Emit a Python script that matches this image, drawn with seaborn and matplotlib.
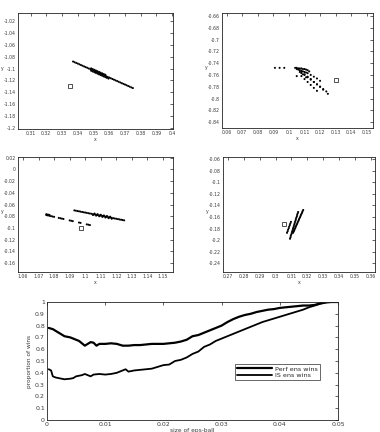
import matplotlib
matplotlib.use("Agg")
import matplotlib.pyplot as plt
import seaborn as sns
import pandas as pd

sns.set_style("white")
plt.rcParams['font.family'] = ['DejaVu Sans']

# ---- panel data (top-left) ----
tl_x = [0.337, 0.338, 0.339, 0.340, 0.341, 0.342, 0.343, 0.344, 0.345, 0.346, 0.347, 0.348, 0.349,
        0.350, 0.351, 0.352, 0.353, 0.354, 0.355, 0.356, 0.357, 0.358, 0.359, 0.360, 0.361, 0.362,
        0.363, 0.364, 0.365, 0.366, 0.367, 0.368, 0.369, 0.370, 0.371, 0.372, 0.373, 0.374, 0.375,
        0.3485, 0.3495, 0.3505, 0.3515, 0.3525, 0.3535, 0.3545, 0.3555, 0.3565, 0.3575, 0.3585, 0.3595,
        0.3485, 0.3495, 0.3505, 0.3515, 0.3525, 0.3535, 0.3545, 0.3555, 0.3565, 0.3575]
tl_y = [-1.0880, -1.0892, -1.0904, -1.0915, -1.0927, -1.0939, -1.0951, -1.0963, -1.0974, -1.0986,
        -1.0998, -1.1010, -1.1022, -1.1033, -1.1045, -1.1057, -1.1069, -1.1081, -1.1092, -1.1104,
        -1.1116, -1.1128, -1.1140, -1.1151, -1.1163, -1.1175, -1.1187, -1.1199, -1.1210, -1.1222,
        -1.1234, -1.1246, -1.1258, -1.1269, -1.1281, -1.1293, -1.1305, -1.1317, -1.1328,
        -1.1036, -1.1048, -1.1060, -1.1072, -1.1084, -1.1096, -1.1108, -1.1120, -1.1132, -1.1144, -1.1156, -1.1168,
        -1.0996, -1.1008, -1.1020, -1.1032, -1.1044, -1.1056, -1.1068, -1.1080, -1.1092, -1.1104]
tl_sq = (0.335, -1.129)

# ---- top-right ----
tr_x = [0.091, 0.094, 0.097,
        0.104, 0.105, 0.106, 0.107, 0.108, 0.109, 0.110, 0.111, 0.112,
        0.105, 0.106, 0.107, 0.108, 0.109, 0.110, 0.111,
        0.107, 0.108, 0.109, 0.113,
        0.108, 0.110, 0.112, 0.114, 0.116, 0.118, 0.120, 0.122,
        0.110, 0.112, 0.114, 0.116, 0.118, 0.120, 0.122, 0.124, 0.125,
        0.108, 0.110, 0.112, 0.114, 0.116, 0.118,
        0.112, 0.114, 0.116, 0.118, 0.120, 0.105, 0.111]
tr_y = [-0.748, -0.748, -0.748,
        -0.748, -0.748, -0.749, -0.749, -0.749, -0.750, -0.750, -0.751, -0.752,
        -0.750, -0.751, -0.752, -0.753, -0.754, -0.755, -0.756,
        -0.755, -0.757, -0.759, -0.754,
        -0.755, -0.759, -0.763, -0.767, -0.772, -0.776, -0.780, -0.785,
        -0.760, -0.764, -0.768, -0.772, -0.776, -0.780, -0.784, -0.788, -0.792,
        -0.762, -0.767, -0.772, -0.777, -0.782, -0.787,
        -0.757, -0.760, -0.763, -0.766, -0.770, -0.762, -0.764]
tr_sq = (0.130, -0.769)

# ---- bottom-left ----
bl_x = [1.093, 1.094, 1.095, 1.096, 1.097, 1.098, 1.099, 1.100, 1.101, 1.102, 1.103, 1.104, 1.105,
        1.106, 1.107, 1.108, 1.109, 1.110, 1.111, 1.112, 1.113, 1.114, 1.115, 1.116, 1.117, 1.118,
        1.119, 1.120, 1.121, 1.122, 1.123, 1.124, 1.125,
        1.105, 1.107, 1.109, 1.111, 1.113, 1.115, 1.117, 1.106, 1.108, 1.110, 1.112, 1.114, 1.116,
        1.075, 1.076, 1.077, 1.078, 1.079, 1.080, 1.075, 1.076, 1.077,
        1.083, 1.084, 1.085, 1.086, 1.090, 1.091, 1.092, 1.096, 1.097, 1.101, 1.102, 1.103]
bl_y = [-0.0700, -0.0705, -0.0711, -0.0716, -0.0721, -0.0727, -0.0732, -0.0737, -0.0742, -0.0748,
        -0.0753, -0.0758, -0.0764, -0.0769, -0.0774, -0.0780, -0.0785, -0.0790, -0.0795, -0.0801,
        -0.0806, -0.0811, -0.0817, -0.0822, -0.0827, -0.0833, -0.0838, -0.0843, -0.0848, -0.0854,
        -0.0859, -0.0864, -0.0870,
        -0.0779, -0.0789, -0.0800, -0.0810, -0.0821, -0.0832, -0.0842, -0.0754, -0.0765, -0.0775,
        -0.0786, -0.0796, -0.0807,
        -0.0780, -0.0786, -0.0792, -0.0798, -0.0804, -0.0810, -0.0765, -0.0771, -0.0777,
        -0.0828, -0.0834, -0.0840, -0.0846, -0.0871, -0.0877, -0.0883, -0.0907, -0.0913, -0.0938, -0.0944, -0.0950]
bl_sq = (1.097, -0.100)

# ---- bottom-right ----
br_x = [0.3091, 0.3094, 0.3096, 0.3099, 0.3102, 0.3104, 0.3107, 0.3110, 0.3112, 0.3115, 0.3118,
        0.3120, 0.3123, 0.3126, 0.3128, 0.3131, 0.3134, 0.3136, 0.3139, 0.3142,
        0.3110, 0.3114, 0.3117, 0.3120, 0.3124, 0.3127, 0.3130, 0.3134, 0.3137, 0.3140, 0.3144,
        0.3147, 0.3150, 0.3154, 0.3157, 0.3160, 0.3164, 0.3167, 0.3170, 0.3174,
        0.3072, 0.3076, 0.3079, 0.3083, 0.3086, 0.3090, 0.3093, 0.3097]
br_y = [-0.1976, -0.1952, -0.1927, -0.1903, -0.1879, -0.1855, -0.1830, -0.1806, -0.1782, -0.1758,
        -0.1733, -0.1709, -0.1685, -0.1661, -0.1636, -0.1612, -0.1588, -0.1564, -0.1539, -0.1515,
        -0.1874, -0.1853, -0.1833, -0.1812, -0.1791, -0.1770, -0.1750, -0.1729, -0.1708, -0.1688,
        -0.1667, -0.1646, -0.1625, -0.1605, -0.1584, -0.1563, -0.1543, -0.1522, -0.1501, -0.1480,
        -0.1874, -0.1847, -0.1820, -0.1793, -0.1766, -0.1739, -0.1712, -0.1685]
br_sq = (0.3053, -0.172)

# ---- bottom line chart ----
eps_perf = [0.0003, 0.001, 0.002, 0.003, 0.004, 0.005, 0.0055, 0.006, 0.0065, 0.007, 0.0075, 0.008,
            0.0085, 0.009, 0.010, 0.011, 0.012, 0.013, 0.014, 0.015, 0.016, 0.017, 0.018, 0.019,
            0.020, 0.021, 0.022, 0.023, 0.024, 0.025, 0.026, 0.027, 0.028, 0.029, 0.030, 0.031,
            0.032, 0.033, 0.034, 0.035, 0.036, 0.037, 0.038, 0.039, 0.040, 0.041, 0.042, 0.043,
            0.044, 0.045, 0.046, 0.047, 0.048, 0.049, 0.050]
perf_wins = [0.78, 0.77, 0.74, 0.71, 0.70, 0.68, 0.67, 0.65, 0.63, 0.645, 0.66, 0.655,
             0.63, 0.645, 0.645, 0.65, 0.645, 0.63, 0.63, 0.635, 0.635, 0.64, 0.645, 0.645,
             0.645, 0.65, 0.655, 0.665, 0.68, 0.71, 0.72, 0.74, 0.76, 0.78, 0.80, 0.83,
             0.855, 0.875, 0.89, 0.90, 0.915, 0.925, 0.935, 0.94, 0.95, 0.955, 0.96, 0.965,
             0.97, 0.97, 0.975, 0.99, 1.0, 1.0, 1.0]
eps_is = [0.0003, 0.0007, 0.001, 0.0015, 0.002, 0.003, 0.004, 0.0045, 0.005, 0.006, 0.0065, 0.007,
          0.0075, 0.008, 0.009, 0.010, 0.011, 0.012, 0.013, 0.0135, 0.014, 0.015, 0.016, 0.017,
          0.018, 0.019, 0.020, 0.021, 0.022, 0.023, 0.024, 0.025, 0.026, 0.027, 0.028, 0.029,
          0.030, 0.031, 0.032, 0.033, 0.034, 0.035, 0.036, 0.037, 0.038, 0.039, 0.040, 0.041,
          0.042, 0.043, 0.044, 0.045, 0.046, 0.047, 0.048, 0.049, 0.050]
is_wins = [0.43, 0.42, 0.37, 0.36, 0.355, 0.345, 0.35, 0.355, 0.37, 0.38, 0.39, 0.38,
           0.37, 0.385, 0.39, 0.385, 0.39, 0.40, 0.42, 0.43, 0.41, 0.42, 0.425, 0.43,
           0.435, 0.45, 0.465, 0.47, 0.50, 0.51, 0.53, 0.56, 0.58, 0.62, 0.64, 0.67,
           0.69, 0.71, 0.73, 0.75, 0.77, 0.79, 0.81, 0.83, 0.845, 0.86, 0.875, 0.89,
           0.905, 0.92, 0.935, 0.955, 0.97, 0.985, 0.995, 1.0, 1.0]

# tick labels
tl_xticks = [0.31, 0.32, 0.33, 0.34, 0.35, 0.36, 0.37, 0.38, 0.39, 0.4]
tl_yticks = [-1.02, -1.04, -1.06, -1.08, -1.1, -1.12, -1.14, -1.16, -1.18, -1.2]
tr_xticks = [0.06, 0.07, 0.08, 0.09, 0.1, 0.11, 0.12, 0.13, 0.14, 0.15]
tr_yticks = [-0.66, -0.68, -0.7, -0.72, -0.74, -0.76, -0.78, -0.8, -0.82, -0.84]
bl_xticks = [1.06, 1.07, 1.08, 1.09, 1.1, 1.11, 1.12, 1.13, 1.14, 1.15]
bl_yticks = [0.02, 0, -0.02, -0.04, -0.06, -0.08, -0.1, -0.12, -0.14, -0.16]
br_xticks = [0.27, 0.28, 0.29, 0.3, 0.31, 0.32, 0.33, 0.34, 0.35, 0.36]
br_yticks = [-0.06, -0.08, -0.1, -0.12, -0.14, -0.16, -0.18, -0.2, -0.22, -0.24]
bot_xticks = [0, 0.01, 0.02, 0.03, 0.04, 0.05]
bot_yticks = [0, 0.1, 0.2, 0.3, 0.4, 0.5, 0.6, 0.7, 0.8, 0.9, 1]

W, H = 380, 432
fig = plt.figure(figsize=(3.8, 4.32), dpi=100)

def rect(l, t, r, b):
    return [l / W, 1 - b / H, (r - l) / W, (b - t) / H]

TXT = '#3a3a3a'

def style(ax, fs=3.3):
    ax.tick_params(direction='in', top=True, right=True, length=2, width=0.5,
                   labelsize=fs, pad=1.5, colors='#222222', labelcolor=TXT)
    for s in ax.spines.values():
        s.set_linewidth(0.6)
        s.set_color('#222222')

def fmt(v):
    return '%g' % v

def scatter_panel(r, xs, ys, sq, xl, yl, xt, yt):
    ax = fig.add_axes(rect(*r))
    df = pd.DataFrame({'x': xs, 'y': ys})
    sns.scatterplot(data=df, x='x', y='y', ax=ax, s=2.2, color='black', edgecolor='none', marker='o')
    ax.plot([sq[0]], [sq[1]], marker='s', mfc='none', mec='#333333', ms=3.5, mew=0.6, ls='none')
    ax.set_xlim(*xl)
    ax.set_ylim(*yl)
    ax.set_xticks(xt)
    ax.set_xticklabels([fmt(v) for v in xt])
    ax.set_yticks(yt)
    ax.set_yticklabels([fmt(v) for v in yt])
    ax.set_xlabel('x', fontsize=3.3, color=TXT, labelpad=1)
    ax.set_ylabel('y', fontsize=3.3, color=TXT, labelpad=1, rotation=0)
    style(ax)
    return ax

scatter_panel((18, 13, 173, 129), tl_x, tl_y, tl_sq, (0.302, 0.4005), (-1.202, -1.006), tl_xticks, tl_yticks)
scatter_panel((222, 13, 373, 128), tr_x, tr_y, tr_sq, (0.057, 0.154), (-0.850, -0.655), tr_xticks, tr_yticks)
scatter_panel((18, 157, 173, 272), bl_x, bl_y, bl_sq, (1.0568, 1.1564), (-0.175, 0.021), bl_xticks, bl_yticks)
scatter_panel((223, 157, 375, 272), br_x, br_y, br_sq, (0.267, 0.3625), (-0.255, -0.0566), br_xticks, br_yticks)

ax = fig.add_axes(rect(47, 302, 338, 420))
d1 = pd.DataFrame({'eps': eps_perf, 'wins': perf_wins})
d2 = pd.DataFrame({'eps': eps_is, 'wins': is_wins})
sns.lineplot(data=d1, x='eps', y='wins', ax=ax, color='black', lw=1.6, estimator=None, label='Perf ens wins')
sns.lineplot(data=d2, x='eps', y='wins', ax=ax, color='black', lw=1.3, estimator=None, label='IS ens wins')
ax.set_xlim(0, 0.05)
ax.set_ylim(0, 1)
ax.set_xticks(bot_xticks)
ax.set_xticklabels([fmt(v) for v in bot_xticks])
ax.set_yticks(bot_yticks)
ax.set_yticklabels([fmt(v) for v in bot_yticks])
ax.set_xlabel('size of eps-ball', fontsize=4.2, color=TXT, labelpad=0.5)
ax.set_ylabel('proportion of wins', fontsize=4.2, color=TXT, labelpad=2)
style(ax, fs=4.5)
leg = ax.legend(loc='upper left', bbox_to_anchor=(0.636, 0.50), fontsize=4.6, frameon=True,
                fancybox=False, edgecolor='#222222', handlelength=5.5, borderpad=0.3,
                labelspacing=0.2, handletextpad=0.4)
leg.get_frame().set_linewidth(0.6)

fig.savefig('out.png', dpi=100)
